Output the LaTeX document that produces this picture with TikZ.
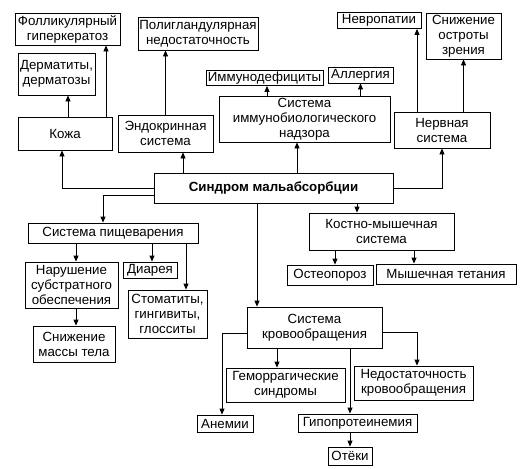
\documentclass[tikz,border=0pt]{standalone}
\usepackage{fontspec}
\setmainfont{Liberation Sans}
\usetikzlibrary{arrows.meta}
\tikzset{
  box/.style={draw,line width=0.8pt,align=center,inner sep=0.5pt,fill=white,
    font=\fontsize{13.3}{15}\selectfont},
  arr/.style={line width=0.8pt,-{Triangle[length=6pt,width=5pt]}}
}
\begin{document}
\begin{tikzpicture}[x=1pt,y=-1pt]
\useasboundingbox (0,0) rectangle (523,469);
\foreach \nm/\x/\y/\w/\h/\txt in {
  foll/67.5/29/105/32/{Фолликулярный\\гиперкератоз},
  derm/56.5/74/77/42/{Дерматиты,\\дерматозы},
  kozha/65/133.5/94/33/{Кожа},
  polig/198/33.5/120/33/{Полигландулярная\\недостаточность},
  endo/165.5/133.5/95/37/{Эндокринная\\система},
  immdef/264.5/78/117/15/{Иммунодефициты},
  allerg/360.5/75/65/16/{Аллергия},
  immun/304.5/119/171/46/{Система\\иммунобиологического\\надзора},
  nevrop/379/20.5/84/16/{Невропатии},
  zrenie/463.5/36/75/46/{Снижение\\остроты\\зрения},
  nerv/442/130/96/36/{Нервная\\система},
  sindrom/273.5/188/239/30/{\bfseries Синдром мальабсорбции},
  pisch/113/233/170/20/{Система пищеварения},
  narush/71.5/285/93/46/{Нарушение\\субстратного\\обеспечения},
  diar/150/270/54/16/{Диарея},
  stomat/167.5/314/79/48/{Стоматиты,\\гингивиты,\\глосситы},
  massa/74/344/82/36/{Снижение\\массы тела},
  kost/381.5/231.5/145/37/{Костно-мышечная\\система},
  osteo/330/275/86/20/{Остеопороз},
  tetan/446/274/140/20/{Мышечная тетания},
  krov/314.5/327.5/135/41/{Система\\кровообращения},
  gemor/285.5/385/119/34/{Геморрагические\\синдромы},
  nedost/413.5/383/119/34/{Недостаточность\\кровообращения},
  anem/225/423.5/56/17/{Анемии},
  gipo/357.5/423/119/18/{Гипопротеинемия},
  oteki/350/456/44/18/{Отёки}}
{
    \node[box,minimum width=\w,minimum height=\h] (\nm) at (\x,\y) {\txt};
}
% upper part
\draw[arr] ([xshift=3pt]kozha.north) -- ([xshift=3pt]kozha.north |- derm.south);
\draw[arr] ([xshift=41pt]kozha.north) -- ([xshift=41pt]kozha.north |- foll.south);
\draw[arr] (endo.north) -- (endo.north |- polig.south);
\draw[arr] ([xshift=-37.5pt]immun.north) -- ([xshift=-37.5pt]immun.north |- immdef.south);
\draw[arr] (allerg.south |- immun.north) -- (allerg.south);
\draw[arr] ([xshift=-25pt]nerv.north) -- ([xshift=-25pt]nerv.north |- nevrop.south);
\draw[arr] (zrenie.south |- nerv.north) -- (zrenie.south);
\draw[arr] (sindrom.west) -| ([xshift=-3pt]kozha.south);
\draw[arr] ([xshift=17.5pt]endo.south |- sindrom.north) -- ([xshift=17.5pt]endo.south);
\draw[arr] ([xshift=-7.5pt]immun.south |- sindrom.north) -- ([xshift=-7.5pt]immun.south);
\draw[arr] (sindrom.east) -| (nerv.south);
% lower part
\draw[arr] ([yshift=-7pt]sindrom.west) -| ([xshift=-10pt]pisch.north);
\draw[arr] ([xshift=-24.5pt]kost.north |- sindrom.south) -- ([xshift=-24.5pt]kost.north);
\draw[arr] ([xshift=-57.5pt]krov.north |- sindrom.south) -- ([xshift=-57.5pt]krov.north);
\draw[arr] ([xshift=4.5pt]narush.north |- pisch.south) -- ([xshift=4.5pt]narush.north);
\draw[arr] ([xshift=2pt]diar.north |- pisch.south) -- ([xshift=2pt]diar.north);
\draw[arr] ([xshift=18.5pt]stomat.north |- pisch.south) -- ([xshift=18.5pt]stomat.north);
\draw[arr] ([xshift=4.5pt]narush.south) -- ([xshift=4.5pt]narush.south |- massa.north);
\draw[arr] ([xshift=5pt]osteo.north |- kost.south) -- ([xshift=5pt]osteo.north);
\draw[arr] ([xshift=-32pt]tetan.north |- kost.south) -- ([xshift=-32pt]tetan.north);
\draw[arr] ([yshift=-5.5pt]krov.west) -| ([xshift=-3pt]anem.north);
\draw[arr] ([xshift=-8.5pt]gemor.north |- krov.south) -- ([xshift=-8.5pt]gemor.north);
\draw[arr] ([xshift=-7.5pt]gipo.north |- krov.south) -- ([xshift=-7.5pt]gipo.north);
\draw[arr] ([yshift=-4.5pt]krov.east) -| ([xshift=3.5pt]nedost.north);
\draw[arr] (oteki.north |- gipo.south) -- (oteki.north);
\end{tikzpicture}
\end{document}
